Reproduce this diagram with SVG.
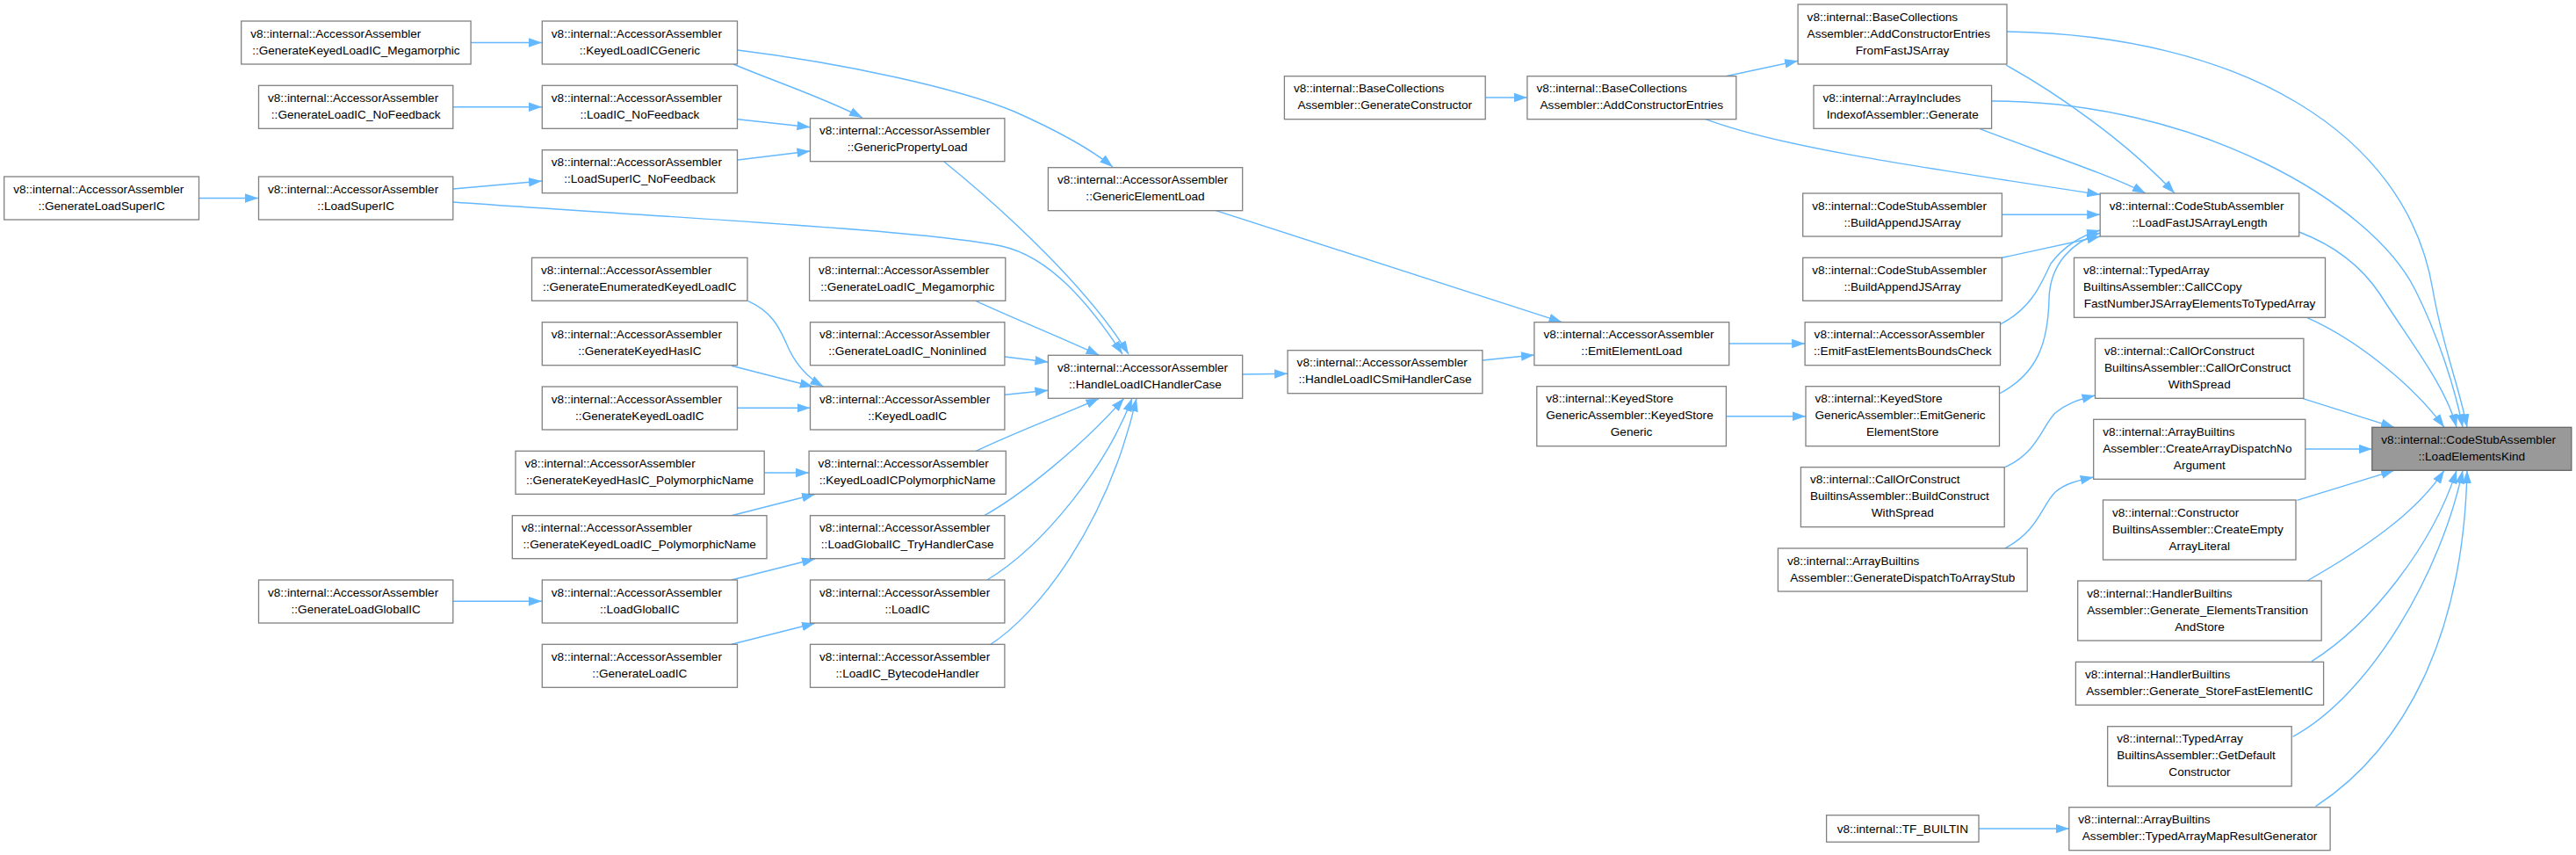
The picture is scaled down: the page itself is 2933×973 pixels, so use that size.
<svg xmlns="http://www.w3.org/2000/svg" width="2933" height="973" viewBox="0 0 2933 973">
<defs>
<marker id="ah" markerUnits="userSpaceOnUse" markerWidth="15" markerHeight="11" viewBox="0 0 15 10.5" refX="15" refY="5.25" orient="auto">
<path d="M0,0 L15,5.25 L0,10.5 z" fill="#63b8ff"/>
</marker>
</defs>
<style>
.node rect{fill:#ffffff;stroke:#808080;stroke-width:1.3}
.root rect{fill:#999999;stroke:#666666;stroke-width:1.3}
text{font-family:"Liberation Sans",Arial,sans-serif;font-size:13.6px;fill:#000000}
.l{text-anchor:start}
.c{text-anchor:middle}
#edges path{fill:none;stroke:#63b8ff;stroke-width:1.4;marker-end:url(#ah)}
</style>
<rect x="0" y="0" width="2933" height="973" fill="#ffffff"/>
<g id="edges">
<path d="M536,48.5 L617,48.5"/>
<path d="M516,121.8 L617,121.8"/>
<path d="M226.5,225.5 L294,225.5"/>
<path d="M516,215 L617,206"/>
<path d="M516,230 C800,250 1050,262 1140,280 C1195,292 1240,345 1278,403"/>
<path d="M835,73 C880,92 940,112 982,134"/>
<path d="M840,57 C960,72 1090,100 1155,127 C1200,147 1240,168 1267,190"/>
<path d="M840,135.7 L922.5,144.7"/>
<path d="M840,182 L922.5,172"/>
<path d="M1075,184 C1150,245 1240,330 1285,403"/>
<path d="M1383.6,239.3 L1778.5,366.7"/>
<path d="M851.8,342.7 C880,355 888,375 895,390 C905,415 920,430 937.6,440"/>
<path d="M832.9,416.3 L925.8,440"/>
<path d="M840,464.3 L922.5,464.3"/>
<path d="M870,538 L921,538"/>
<path d="M832.9,586.7 L928,562.5"/>
<path d="M516,684.3 L617,684.3"/>
<path d="M832.9,660 L928,636"/>
<path d="M832.9,733.3 L928,709.3"/>
<path d="M1111.3,342.7 C1160,365 1210,385 1251.5,404.3"/>
<path d="M1143.9,406 L1193.4,412"/>
<path d="M1143.9,449.3 L1193.4,444.3"/>
<path d="M1111.3,513.3 C1160,490 1215,470 1251.5,453.3"/>
<path d="M1120.7,586.7 C1160,565 1230,510 1279.8,453.3"/>
<path d="M1124,660 C1190,620 1260,530 1289,453.3"/>
<path d="M1127.8,733.3 C1180,700 1260,600 1294,453.3"/>
<path d="M1414.7,426 L1466.1,425.3"/>
<path d="M1688,410 L1746.9,404"/>
<path d="M1968.7,391 L2055.1,391"/>
<path d="M1965.4,473.7 L2056,473.7"/>
<path d="M1691.2,111 L1738.9,111"/>
<path d="M1965,86.7 L2047.1,69.3"/>
<path d="M1941.4,135.3 C2020,165 2150,185 2391.2,221.5"/>
<path d="M2284,74 C2340,105 2420,160 2476,220"/>
<path d="M2254.3,146.7 C2320,172 2400,198 2443,220"/>
<path d="M2279.4,244.3 L2391.2,244.3"/>
<path d="M2279.4,293.3 L2391.2,269"/>
<path d="M2277.5,369 C2315,350 2325,320 2335,300 C2350,280 2370,268 2391.2,262"/>
<path d="M2276.5,448 C2320,425 2332,390 2333,340 C2334,300 2360,275 2391.2,265"/>
<path d="M2285,36 C2550,40 2740,150 2770,330 C2780,390 2800,440 2809,486.3"/>
<path d="M2267.6,115 C2500,115 2700,230 2750,330 C2775,380 2795,440 2804,486.3"/>
<path d="M2617.7,264 C2660,280 2690,305 2710,335 C2745,390 2785,440 2797,486.3"/>
<path d="M2627,361.7 C2680,385 2745,435 2783,486.3"/>
<path d="M2621.5,453.3 L2726,486.3"/>
<path d="M2624.8,511 L2700.8,511"/>
<path d="M2615.4,569.3 L2726,535.3"/>
<path d="M2627,661 C2690,625 2750,585 2783,535.3"/>
<path d="M2632,752.7 C2700,710 2770,620 2797,535.3"/>
<path d="M2610.6,838.3 C2700,790 2780,650 2804,535.3"/>
<path d="M2636.6,917.7 C2740,850 2805,720 2809,535.3"/>
<path d="M2282.7,531.7 C2320,515 2325,485 2340,470 C2352,460 2365,455 2385.5,450"/>
<path d="M2282.7,624 C2320,605 2325,575 2340,560 C2352,550 2365,547 2383.7,543"/>
<path d="M2253,943 L2355.8,943"/>
</g>
<g id="n1" class="node"><rect x="4.7" y="201" width="221.8" height="49"/><text class="l" x="15.2" y="219.5">v8::internal::AccessorAssembler</text><text class="c" x="115.6" y="238.5">::GenerateLoadSuperIC</text></g>
<g id="n2" class="node"><rect x="274.7" y="24" width="261.4" height="49"/><text class="l" x="285.2" y="42.5">v8::internal::AccessorAssembler</text><text class="c" x="405.4" y="61.5">::GenerateKeyedLoadIC_Megamorphic</text></g>
<g id="n3" class="node"><rect x="294.5" y="97.3" width="221.3" height="49"/><text class="l" x="305" y="115.8">v8::internal::AccessorAssembler</text><text class="c" x="405.2" y="134.8">::GenerateLoadIC_NoFeedback</text></g>
<g id="n4" class="node"><rect x="294.5" y="201" width="221.3" height="49"/><text class="l" x="305" y="219.5">v8::internal::AccessorAssembler</text><text class="c" x="405.2" y="238.5">::LoadSuperIC</text></g>
<g id="n5" class="node"><rect x="294.5" y="660" width="221.3" height="49"/><text class="l" x="305" y="678.5">v8::internal::AccessorAssembler</text><text class="c" x="405.2" y="697.5">::GenerateLoadGlobalIC</text></g>
<g id="n6" class="node"><rect x="617.3" y="24" width="222.2" height="49"/><text class="l" x="627.8" y="42.5">v8::internal::AccessorAssembler</text><text class="c" x="728.4" y="61.5">::KeyedLoadICGeneric</text></g>
<g id="n7" class="node"><rect x="617.3" y="97.3" width="222.2" height="49"/><text class="l" x="627.8" y="115.8">v8::internal::AccessorAssembler</text><text class="c" x="728.4" y="134.8">::LoadIC_NoFeedback</text></g>
<g id="n8" class="node"><rect x="617.3" y="170.7" width="222.2" height="49"/><text class="l" x="627.8" y="189.2">v8::internal::AccessorAssembler</text><text class="c" x="728.4" y="208.2">::LoadSuperIC_NoFeedback</text></g>
<g id="n9" class="node"><rect x="605.5" y="293.3" width="245.5" height="49"/><text class="l" x="616" y="311.8">v8::internal::AccessorAssembler</text><text class="c" x="728.3" y="330.8">::GenerateEnumeratedKeyedLoadIC</text></g>
<g id="n10" class="node"><rect x="617.3" y="366.7" width="222.2" height="49"/><text class="l" x="627.8" y="385.2">v8::internal::AccessorAssembler</text><text class="c" x="728.4" y="404.2">::GenerateKeyedHasIC</text></g>
<g id="n11" class="node"><rect x="617.3" y="440" width="222.2" height="49"/><text class="l" x="627.8" y="458.5">v8::internal::AccessorAssembler</text><text class="c" x="728.4" y="477.5">::GenerateKeyedLoadIC</text></g>
<g id="n12" class="node"><rect x="587" y="513.3" width="283.2" height="49"/><text class="l" x="597.5" y="531.8">v8::internal::AccessorAssembler</text><text class="c" x="728.6" y="550.8">::GenerateKeyedHasIC_PolymorphicName</text></g>
<g id="n13" class="node"><rect x="583.3" y="586.7" width="289.7" height="49"/><text class="l" x="593.8" y="605.2">v8::internal::AccessorAssembler</text><text class="c" x="728.2" y="624.2">::GenerateKeyedLoadIC_PolymorphicName</text></g>
<g id="n14" class="node"><rect x="617.3" y="660" width="222.2" height="49"/><text class="l" x="627.8" y="678.5">v8::internal::AccessorAssembler</text><text class="c" x="728.4" y="697.5">::LoadGlobalIC</text></g>
<g id="n15" class="node"><rect x="617.3" y="733.3" width="222.2" height="49"/><text class="l" x="627.8" y="751.8">v8::internal::AccessorAssembler</text><text class="c" x="728.4" y="770.8">::GenerateLoadIC</text></g>
<g id="n16" class="node"><rect x="922.5" y="134.7" width="221.4" height="49"/><text class="l" x="933" y="153.2">v8::internal::AccessorAssembler</text><text class="c" x="1033.2" y="172.2">::GenericPropertyLoad</text></g>
<g id="n17" class="node"><rect x="921.6" y="293.3" width="223.2" height="49"/><text class="l" x="932.1" y="311.8">v8::internal::AccessorAssembler</text><text class="c" x="1033.2" y="330.8">::GenerateLoadIC_Megamorphic</text></g>
<g id="n18" class="node"><rect x="922.5" y="366.7" width="221.4" height="49"/><text class="l" x="933" y="385.2">v8::internal::AccessorAssembler</text><text class="c" x="1033.2" y="404.2">::GenerateLoadIC_Noninlined</text></g>
<g id="n19" class="node"><rect x="922.5" y="440" width="221.4" height="49"/><text class="l" x="933" y="458.5">v8::internal::AccessorAssembler</text><text class="c" x="1033.2" y="477.5">::KeyedLoadIC</text></g>
<g id="n20" class="node"><rect x="921.1" y="513.3" width="224.2" height="49"/><text class="l" x="931.6" y="531.8">v8::internal::AccessorAssembler</text><text class="c" x="1033.2" y="550.8">::KeyedLoadICPolymorphicName</text></g>
<g id="n21" class="node"><rect x="922.5" y="586.7" width="221.4" height="49"/><text class="l" x="933" y="605.2">v8::internal::AccessorAssembler</text><text class="c" x="1033.2" y="624.2">::LoadGlobalIC_TryHandlerCase</text></g>
<g id="n22" class="node"><rect x="922.5" y="660" width="221.4" height="49"/><text class="l" x="933" y="678.5">v8::internal::AccessorAssembler</text><text class="c" x="1033.2" y="697.5">::LoadIC</text></g>
<g id="n23" class="node"><rect x="922.5" y="733.3" width="221.4" height="49"/><text class="l" x="933" y="751.8">v8::internal::AccessorAssembler</text><text class="c" x="1033.2" y="770.8">::LoadIC_BytecodeHandler</text></g>
<g id="n24" class="node"><rect x="1193.4" y="190.7" width="221.3" height="49"/><text class="l" x="1203.9" y="209.2">v8::internal::AccessorAssembler</text><text class="c" x="1304" y="228.2">::GenericElementLoad</text></g>
<g id="n25" class="node"><rect x="1193.4" y="404.3" width="221.3" height="49"/><text class="l" x="1203.9" y="422.8">v8::internal::AccessorAssembler</text><text class="c" x="1304" y="441.8">::HandleLoadICHandlerCase</text></g>
<g id="n26" class="node"><rect x="1466.1" y="398.7" width="221.8" height="49"/><text class="l" x="1476.6" y="417.2">v8::internal::AccessorAssembler</text><text class="c" x="1577" y="436.2">::HandleLoadICSmiHandlerCase</text></g>
<g id="n27" class="node"><rect x="1462.4" y="86.7" width="228.8" height="49"/><text class="l" x="1472.9" y="105.2">v8::internal::BaseCollections</text><text class="c" x="1576.8" y="124.2">Assembler::GenerateConstructor</text></g>
<g id="n28" class="node"><rect x="1738.9" y="86.7" width="237.9" height="49"/><text class="l" x="1749.4" y="105.2">v8::internal::BaseCollections</text><text class="c" x="1857.8" y="124.2">Assembler::AddConstructorEntries</text></g>
<g id="n29" class="node"><rect x="1746.9" y="366.7" width="221.8" height="49"/><text class="l" x="1757.4" y="385.2">v8::internal::AccessorAssembler</text><text class="c" x="1857.8" y="404.2">::EmitElementLoad</text></g>
<g id="n30" class="node"><rect x="1749.8" y="439.7" width="215.6" height="68"/><text class="l" x="1760.3" y="458.2">v8::internal::KeyedStore</text><text class="l" x="1760.3" y="477.2">GenericAssembler::KeyedStore</text><text class="c" x="1857.6" y="496.2">Generic</text></g>
<g id="n31" class="node"><rect x="2047.1" y="5" width="237.9" height="68"/><text class="l" x="2057.6" y="23.5">v8::internal::BaseCollections</text><text class="l" x="2057.6" y="42.5">Assembler::AddConstructorEntries</text><text class="c" x="2166" y="61.5">FromFastJSArray</text></g>
<g id="n32" class="node"><rect x="2065" y="97.3" width="202.6" height="49"/><text class="l" x="2075.5" y="115.8">v8::internal::ArrayIncludes</text><text class="c" x="2166.3" y="134.8">IndexofAssembler::Generate</text></g>
<g id="n33" class="node"><rect x="2052.7" y="220" width="226.7" height="49"/><text class="l" x="2063.2" y="238.5">v8::internal::CodeStubAssembler</text><text class="c" x="2166" y="257.5">::BuildAppendJSArray</text></g>
<g id="n34" class="node"><rect x="2052.7" y="293.3" width="226.7" height="49"/><text class="l" x="2063.2" y="311.8">v8::internal::CodeStubAssembler</text><text class="c" x="2166" y="330.8">::BuildAppendJSArray</text></g>
<g id="n35" class="node"><rect x="2055.1" y="366.7" width="222.4" height="49"/><text class="l" x="2065.6" y="385.2">v8::internal::AccessorAssembler</text><text class="c" x="2166.3" y="404.2">::EmitFastElementsBoundsCheck</text></g>
<g id="n36" class="node"><rect x="2056" y="439.7" width="220.5" height="68"/><text class="l" x="2066.5" y="458.2">v8::internal::KeyedStore</text><text class="l" x="2066.5" y="477.2">GenericAssembler::EmitGeneric</text><text class="c" x="2166.2" y="496.2">ElementStore</text></g>
<g id="n37" class="node"><rect x="2050.4" y="531.7" width="231.8" height="68"/><text class="l" x="2060.9" y="550.2">v8::internal::CallOrConstruct</text><text class="l" x="2060.9" y="569.2">BuiltinsAssembler::BuildConstruct</text><text class="c" x="2166.3" y="588.2">WithSpread</text></g>
<g id="n38" class="node"><rect x="2024.4" y="624" width="283.8" height="49"/><text class="l" x="2034.9" y="642.5">v8::internal::ArrayBuiltins</text><text class="c" x="2166.3" y="661.5">Assembler::GenerateDispatchToArrayStub</text></g>
<g id="n39" class="node"><rect x="2079.6" y="927.7" width="173.4" height="30.5"/><text class="c" x="2166.3" y="947.5">v8::internal::TF_BUILTIN</text></g>
<g id="n40" class="node"><rect x="2391.2" y="220" width="226.5" height="49"/><text class="l" x="2401.7" y="238.5">v8::internal::CodeStubAssembler</text><text class="c" x="2504.5" y="257.5">::LoadFastJSArrayLength</text></g>
<g id="n41" class="node"><rect x="2361.5" y="293.3" width="286" height="68"/><text class="l" x="2372" y="311.8">v8::internal::TypedArray</text><text class="l" x="2372" y="330.8">BuiltinsAssembler::CallCCopy</text><text class="c" x="2504.5" y="349.8">FastNumberJSArrayElementsToTypedArray</text></g>
<g id="n42" class="node"><rect x="2385.5" y="385.3" width="237.4" height="68"/><text class="l" x="2396" y="403.8">v8::internal::CallOrConstruct</text><text class="l" x="2396" y="422.8">BuiltinsAssembler::CallOrConstruct</text><text class="c" x="2504.2" y="441.8">WithSpread</text></g>
<g id="n43" class="node"><rect x="2383.7" y="477.3" width="241.1" height="68"/><text class="l" x="2394.2" y="495.8">v8::internal::ArrayBuiltins</text><text class="l" x="2394.2" y="514.8">Assembler::CreateArrayDispatchNo</text><text class="c" x="2504.3" y="533.8">Argument</text></g>
<g id="n44" class="node"><rect x="2394.5" y="569" width="219.5" height="68"/><text class="l" x="2405" y="587.5">v8::internal::Constructor</text><text class="l" x="2405" y="606.5">BuiltinsAssembler::CreateEmpty</text><text class="c" x="2504.3" y="625.5">ArrayLiteral</text></g>
<g id="n45" class="node"><rect x="2365.7" y="661" width="277.5" height="68"/><text class="l" x="2376.2" y="679.5">v8::internal::HandlerBuiltins</text><text class="l" x="2376.2" y="698.5">Assembler::Generate_ElementsTransition</text><text class="c" x="2504.5" y="717.5">AndStore</text></g>
<g id="n46" class="node"><rect x="2363.4" y="753.3" width="282.2" height="49"/><text class="l" x="2373.9" y="771.8">v8::internal::HandlerBuiltins</text><text class="c" x="2504.5" y="790.8">Assembler::Generate_StoreFastElementIC</text></g>
<g id="n47" class="node"><rect x="2399.7" y="826.7" width="209.5" height="68"/><text class="l" x="2410.2" y="845.2">v8::internal::TypedArray</text><text class="l" x="2410.2" y="864.2">BuiltinsAssembler::GetDefault</text><text class="c" x="2504.5" y="883.2">Constructor</text></g>
<g id="n48" class="node"><rect x="2355.8" y="918.7" width="297.3" height="49"/><text class="l" x="2366.3" y="937.2">v8::internal::ArrayBuiltins</text><text class="c" x="2504.5" y="956.2">Assembler::TypedArrayMapResultGenerator</text></g>
<g id="n49" class="root"><rect x="2700.8" y="486.3" width="227" height="49"/><text class="l" x="2711.3" y="504.8">v8::internal::CodeStubAssembler</text><text class="c" x="2814.3" y="523.8">::LoadElementsKind</text></g>
</svg>
